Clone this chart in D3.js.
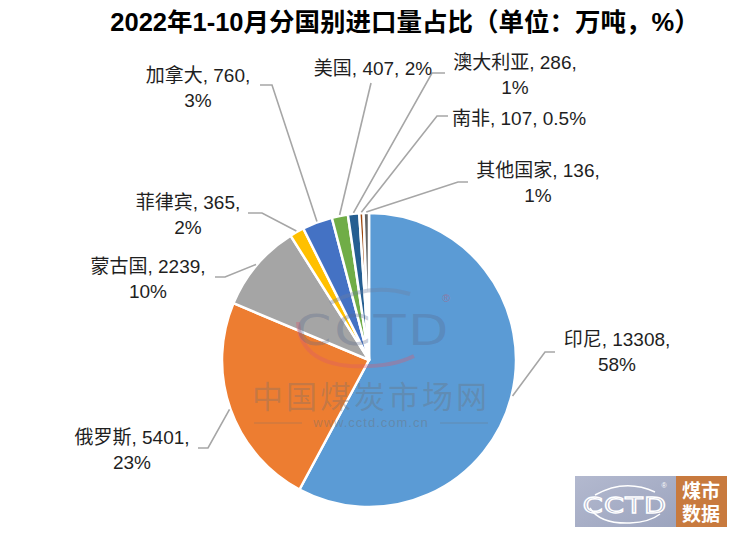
<!DOCTYPE html>
<html><head><meta charset="utf-8">
<script src="https://cdn.jsdelivr.net/npm/d3@7/dist/d3.min.js"></script>
<style>
html,body{margin:0;padding:0;background:#fff;}
svg{display:block;font-family:"Liberation Sans","Noto Sans CJK SC",sans-serif;}
</style></head>
<body>
<svg id="chart" width="744" height="546"></svg>
<script>
// ---- data ----
const countries = ["印尼","俄罗斯","蒙古国","菲律宾","加拿大","美国","澳大利亚","南非","其他国家"];
const volumes   = [13308, 5401, 2239, 365, 760, 407, 286, 107, 136];
const shares    = ["58%","23%","10%","2%","3%","2%","1%","0.5%","1%"];
const colors    = ["#5B9BD5","#ED7D31","#A5A5A5","#FFC000","#4472C4","#70AD47","#255E91","#9E480E","#636363"];
const titleText = "2022年1-10月分国别进口量占比（单位：万吨，%）";

// ---- layout (label placement) ----
const labelLayout = [
  {x:617, y:339, single:false, elbow:[545,352], end:[555,352]},
  {x:132, y:437, single:false, elbow:[208,448], end:[198,448]},
  {x:148, y:266, single:false, elbow:[225,277], end:[215,277]},
  {x:188, y:202, single:false, elbow:[262,213], end:[248,213]},
  {x:198, y:75,  single:false, elbow:[272,85],  end:[260,85]},
  {x:373, y:68,  single:true,  elbow:[371,83],  end:[371,83]},
  {x:515, y:62,  single:false, elbow:[432,73],  end:[445,73]},
  {x:519, y:118, single:true,  elbow:[437,116], end:[448,116]},
  {x:538, y:170, single:false, elbow:[458,182], end:[468,182]}
];

const svg = d3.select("#chart");
const cx = 369, cy = 360, R = 147;

svg.append("text").attr("x",405).attr("y",31).attr("text-anchor","middle")
  .attr("font-size",25.5).attr("font-weight","bold").attr("fill","#000").text(titleText);

const data = countries.map((c,i)=>({name:c, value:volumes[i], share:shares[i], color:colors[i], lay:labelLayout[i]}));
const pie = d3.pie().value(d=>d.value).sort(null);
const arcs = pie(data);
const arc = d3.arc().innerRadius(0).outerRadius(R);

const g = svg.append("g").attr("transform",`translate(${cx},${cy})`);
g.selectAll("path.slice").data(arcs).join("path").attr("class","slice")
  .attr("d",arc).attr("fill",d=>d.data.color)
  .attr("stroke","#fff").attr("stroke-width",2.5).attr("stroke-linejoin","round");

// leader lines
svg.selectAll("polyline.leader").data(arcs).join("polyline").attr("class","leader")
  .attr("points",d=>{
    const a=(d.startAngle+d.endAngle)/2;
    const p=[cx+Math.sin(a)*(R+1), cy-Math.cos(a)*(R+1)];
    return [p, d.data.lay.elbow, d.data.lay.end].map(q=>q.join(",")).join(" ");
  })
  .attr("fill","none").attr("stroke","#A6A6A6").attr("stroke-width",1.6);

// labels
const lab = svg.selectAll("text.lab").data(arcs).join("text").attr("class","lab")
  .attr("text-anchor","middle").attr("font-size",19).attr("fill","#1f1f1f")
  .attr("dominant-baseline","central");
lab.each(function(d){
  const t=d3.select(this), L=d.data.lay;
  if(L.single){
    t.append("tspan").attr("x",L.x).attr("y",L.y).text(`${d.data.name}, ${d.data.value}, ${d.data.share}`);
  } else {
    t.append("tspan").attr("x",L.x).attr("y",L.y).text(`${d.data.name}, ${d.data.value},`);
    t.append("tspan").attr("x",L.x).attr("y",L.y+24.5).text(d.data.share);
  }
});

// ---- center watermark ----
const wm = svg.append("g").attr("pointer-events","none");
wm.append("path").attr("d","M330,303 Q370,282 410,294").attr("fill","none")
  .attr("stroke","rgba(110,125,160,0.35)").attr("stroke-width",4);
wm.append("path").attr("d","M298,322 Q300,362 350,366 Q390,368 414,356").attr("fill","none")
  .attr("stroke","rgba(220,90,110,0.35)").attr("stroke-width",4);
wm.append("text").attr("x",373).attr("y",345).attr("text-anchor","middle")
  .attr("font-family","DejaVu Sans").attr("font-size",42).attr("letter-spacing",2)
  .attr("fill","rgba(90,105,140,0.33)").attr("transform","translate(373,0) scale(1.25,1) translate(-373,0)")
  .text("CCTD");
wm.append("text").attr("x",446).attr("y",302).attr("text-anchor","middle")
  .attr("font-size",11).attr("fill","rgba(200,80,100,0.45)").text("®");
wm.append("text").attr("x",371).attr("y",408).attr("text-anchor","middle")
  .attr("font-family","Liberation Sans, Noto Sans CJK SC").attr("font-size",31).attr("letter-spacing",3)
  .attr("fill","rgba(110,110,110,0.33)").text("中国煤炭市场网");
wm.append("text").attr("x",371).attr("y",427).attr("text-anchor","middle")
  .attr("font-size",13).attr("letter-spacing",1).attr("fill","rgba(110,110,110,0.4)").text("www.cctd.com.cn");
wm.append("line").attr("x1",254).attr("x2",302).attr("y1",423).attr("y2",423).attr("stroke","rgba(110,110,110,0.35)").attr("stroke-width",1.2);
wm.append("line").attr("x1",440).attr("x2",488).attr("y1",423).attr("y2",423).attr("stroke","rgba(110,110,110,0.35)").attr("stroke-width",1.2);

// ---- bottom-right logo ----
const defs = svg.append("defs");
const grad = defs.append("linearGradient").attr("id","lg").attr("x1","0").attr("x2","1").attr("y1","0").attr("y2","1");
grad.append("stop").attr("offset","0").attr("stop-color","#B3B9CF");
grad.append("stop").attr("offset","1").attr("stop-color","#9CA4BE");
const lg = svg.append("g");
lg.append("rect").attr("x",575).attr("y",476).attr("width",101).attr("height",51).attr("fill","url(#lg)");
lg.append("rect").attr("x",676).attr("y",476).attr("width",51).attr("height",51).attr("fill","#C87A3E");
lg.append("path").attr("d","M595,495 Q625,478 655,492").attr("fill","none").attr("stroke","#fff").attr("stroke-width",1.5);
lg.append("path").attr("d","M590,508 Q600,524 630,523 Q650,522 660,514").attr("fill","none").attr("stroke","#fff").attr("stroke-width",1.5);
lg.append("text").attr("x",625).attr("y",513).attr("text-anchor","middle")
  .attr("font-family","DejaVu Sans").attr("font-size",22).attr("letter-spacing",1)
  .attr("fill","none").attr("stroke","#fff").attr("stroke-width",1.3)
  .attr("transform","translate(625,0) scale(1.3,1) translate(-625,0)").text("CCTD");
lg.append("text").attr("x",664).attr("y",488).attr("text-anchor","middle").attr("font-size",7).attr("fill","#fff").text("®");
lg.append("text").attr("x",701).attr("y",498).attr("text-anchor","middle").attr("font-family","Liberation Sans, Noto Sans CJK SC")
  .attr("font-weight","bold").attr("font-size",19).attr("fill","#fff").text("煤市");
lg.append("text").attr("x",701).attr("y",521).attr("text-anchor","middle").attr("font-family","Liberation Sans, Noto Sans CJK SC")
  .attr("font-weight","bold").attr("font-size",19).attr("fill","#fff").text("数据");
</script>
</body></html>
